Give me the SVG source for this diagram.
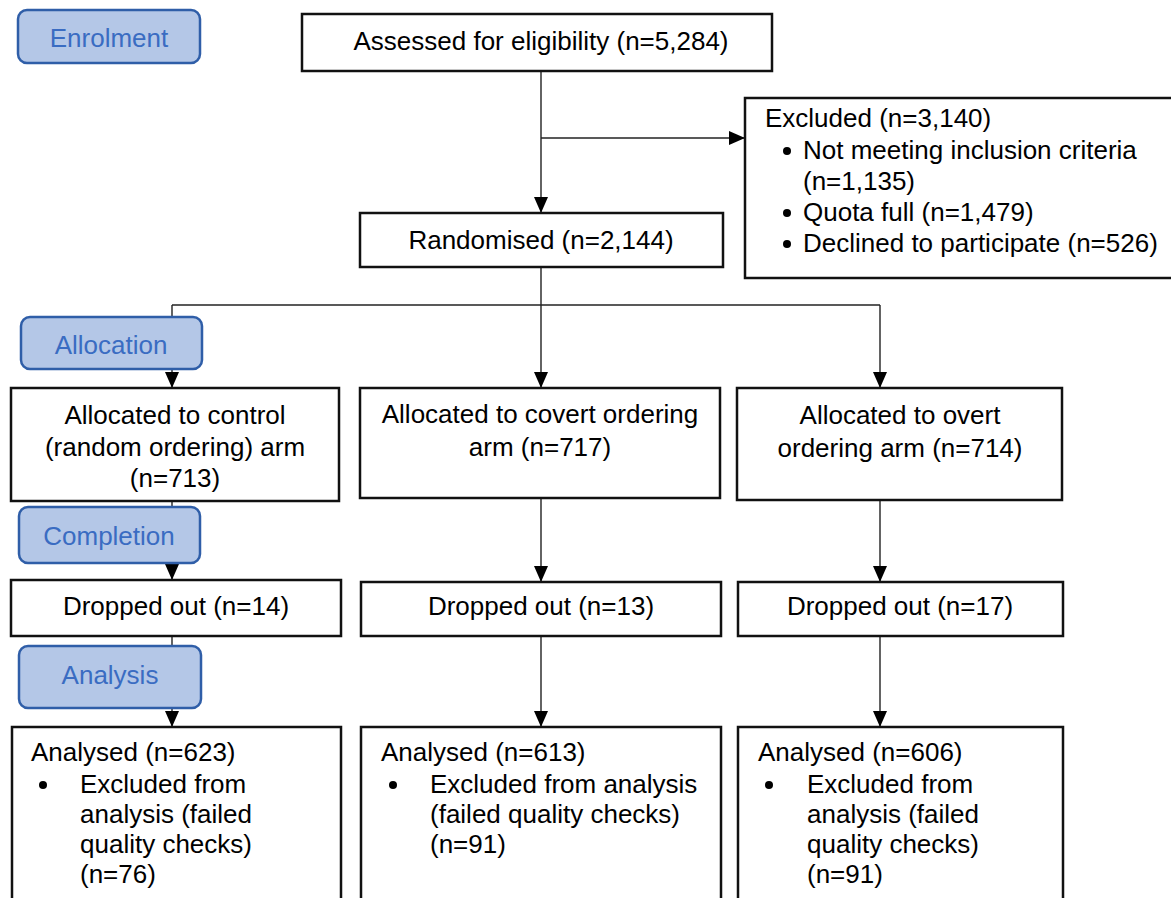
<svg xmlns="http://www.w3.org/2000/svg" width="1171" height="898" viewBox="0 0 1171 898">
<defs>
<marker id="arr" markerUnits="userSpaceOnUse" viewBox="0 0 16 14" refX="16" refY="7" markerWidth="16" markerHeight="14" orient="auto">
<path d="M0,0 L16,7 L0,14 z" fill="#000"/>
</marker>
<style>
.box{fill:#fff;stroke:#111;stroke-width:2.5}
.lab{fill:#b4c7e7;stroke:#2f5ea8;stroke-width:2.5}
.lt{font-family:"Liberation Sans",Arial,sans-serif;font-size:26px;fill:#3a6cc2;text-anchor:middle}
.t{font-family:"Liberation Sans",Arial,sans-serif;font-size:26px;fill:#000}
.c{text-anchor:middle}
.ln{fill:none;stroke:#222;stroke-width:1.4}
</style>
</defs>
<rect width="1171" height="898" fill="#fff"/>
<g id="connectors">
<path class="ln" d="M541,71 V213" marker-end="url(#arr)"/>
<path class="ln" d="M541,138 H745" marker-end="url(#arr)"/>
<path class="ln" d="M541,267 V305"/>
<path class="ln" d="M172,305 H880"/>
<path class="ln" d="M172,305 V388" marker-end="url(#arr)"/>
<path class="ln" d="M541,305 V388" marker-end="url(#arr)"/>
<path class="ln" d="M880,305 V388" marker-end="url(#arr)"/>
<path class="ln" d="M172,501 V580" marker-end="url(#arr)"/>
<path class="ln" d="M541,498 V582" marker-end="url(#arr)"/>
<path class="ln" d="M880,500 V582" marker-end="url(#arr)"/>
<path class="ln" d="M172,636 V727" marker-end="url(#arr)"/>
<path class="ln" d="M541,636 V727" marker-end="url(#arr)"/>
<path class="ln" d="M880,636 V727" marker-end="url(#arr)"/>
</g>
<g id="enrolment">
<rect class="lab" x="18" y="10" width="182" height="53" rx="9"/>
<text class="lt" x="109" y="47">Enrolment</text>
</g>
<g id="assessed">
<rect class="box" x="302" y="14" width="470" height="57"/>
<text class="t c" x="541" y="50">Assessed for eligibility (n=5,284)</text>
</g>
<g id="excluded">
<rect class="box" x="745" y="98" width="430" height="180"/>
<text class="t" x="765" y="127">Excluded (n=3,140)</text>
<circle cx="787" cy="151" r="4"/>
<text class="t" x="803" y="159">Not meeting inclusion criteria</text>
<text class="t" x="803" y="190">(n=1,135)</text>
<circle cx="787" cy="213" r="4"/>
<text class="t" x="803" y="221">Quota full (n=1,479)</text>
<circle cx="787" cy="244" r="4"/>
<text class="t" x="803" y="252">Declined to participate (n=526)</text>
</g>
<g id="randomised">
<rect class="box" x="360" y="213" width="363" height="54"/>
<text class="t c" x="541" y="249">Randomised (n=2,144)</text>
</g>
<g id="allocation">
<rect class="lab" x="21" y="317" width="181" height="52" rx="9"/>
<text class="lt" x="111" y="354">Allocation</text>
</g>
<g id="alloc-control">
<rect class="box" x="11" y="388" width="328" height="113"/>
<text class="t c" x="175" y="424">Allocated to control</text>
<text class="t c" x="175" y="456">(random ordering) arm</text>
<text class="t c" x="175" y="487">(n=713)</text>
</g>
<g id="alloc-covert">
<rect class="box" x="360" y="388" width="360" height="110"/>
<text class="t c" x="540" y="423">Allocated to covert ordering</text>
<text class="t c" x="540" y="456">arm (n=717)</text>
</g>
<g id="alloc-overt">
<rect class="box" x="737" y="388" width="325" height="112"/>
<text class="t c" x="900" y="424">Allocated to overt</text>
<text class="t c" x="900" y="457">ordering arm (n=714)</text>
</g>
<g id="completion">
<rect class="lab" x="19" y="507" width="181" height="56" rx="9"/>
<text class="lt" x="109" y="545">Completion</text>
</g>
<g id="drop-control">
<rect class="box" x="11" y="580" width="330" height="56"/>
<text class="t c" x="176" y="615">Dropped out (n=14)</text>
</g>
<g id="drop-covert">
<rect class="box" x="361" y="582" width="360" height="54"/>
<text class="t c" x="541" y="615">Dropped out (n=13)</text>
</g>
<g id="drop-overt">
<rect class="box" x="738" y="582" width="325" height="54"/>
<text class="t c" x="900" y="615">Dropped out (n=17)</text>
</g>
<g id="analysis">
<rect class="lab" x="19" y="646" width="182" height="62" rx="9"/>
<text class="lt" x="110" y="684">Analysis</text>
</g>
<g id="an-control">
<rect class="box" x="12" y="727" width="329" height="190"/>
<text class="t" x="31" y="761">Analysed (n=623)</text>
<circle cx="43" cy="785" r="4"/>
<text class="t" x="80" y="793">Excluded from</text>
<text class="t" x="80" y="823">analysis (failed</text>
<text class="t" x="80" y="853">quality checks)</text>
<text class="t" x="80" y="883">(n=76)</text>
</g>
<g id="an-covert">
<rect class="box" x="361" y="727" width="360" height="190"/>
<text class="t" x="381" y="761">Analysed (n=613)</text>
<circle cx="393" cy="785" r="4"/>
<text class="t" x="430" y="793">Excluded from analysis</text>
<text class="t" x="430" y="823">(failed quality checks)</text>
<text class="t" x="430" y="853">(n=91)</text>
</g>
<g id="an-overt">
<rect class="box" x="738" y="727" width="325" height="190"/>
<text class="t" x="758" y="761">Analysed (n=606)</text>
<circle cx="769" cy="785" r="4"/>
<text class="t" x="807" y="793">Excluded from</text>
<text class="t" x="807" y="823">analysis (failed</text>
<text class="t" x="807" y="853">quality checks)</text>
<text class="t" x="807" y="883">(n=91)</text>
</g>
</svg>
